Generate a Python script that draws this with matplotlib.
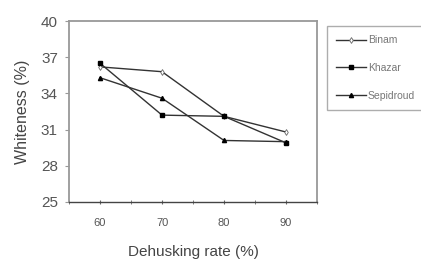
import matplotlib
matplotlib.use("Agg")
import matplotlib.pyplot as plt
from matplotlib.ticker import MultipleLocator

plt.rcParams['font.family'] = ['Liberation Sans', 'DejaVu Sans']

# data
rates = [60, 70, 80, 90]
binam = [36.2, 35.8, 32.1, 30.8]
khazar = [36.5, 32.2, 32.1, 29.9]
sepidroud = [35.3, 33.6, 30.1, 30.0]
yticks = [25, 28, 31, 34, 37, 40]

fig = plt.figure(figsize=(4.21, 2.63), dpi=100)
ax = fig.add_axes([0.164, 0.232, 0.589, 0.688])

line_col = '#333333'
ax.plot(rates, binam, color=line_col, lw=1.0, marker='d', ms=3,
        mfc='white', mec='#666666', mew=0.6, label='Binam')
ax.plot(rates, khazar, color=line_col, lw=1.0, marker='s', ms=3.5,
        mfc='black', mec='black', label='Khazar')
ax.plot(rates, sepidroud, color=line_col, lw=1.0, marker='^', ms=3,
        mfc='black', mec='black', label='Sepidroud')

ax.set_xlim(55, 95)
ax.set_ylim(25, 40)
ax.xaxis.set_major_locator(MultipleLocator(10))
ax.xaxis.set_minor_locator(MultipleLocator(5))
ax.set_yticks(yticks)

for s in ax.spines.values():
    s.set_color('#999999')
    s.set_linewidth(1.3)
ax.spines['bottom'].set_color('#444444')
ax.spines['bottom'].set_linewidth(1.0)

ax.tick_params(axis='y', direction='out', length=3, colors='#999999',
               labelcolor='#555555', labelsize=11, pad=5)
ax.tick_params(axis='x', which='both', direction='inout', length=3,
               colors='#666666', labelcolor='#555555', labelsize=8, pad=10)

ax.set_xlabel('Dehusking rate (%)', fontsize=11, color='#444444', labelpad=12)
ax.set_ylabel('Whiteness (%)', fontsize=11.5, color='#444444', labelpad=8)

leg = fig.legend(loc='upper left', bbox_to_anchor=(0.777, 0.901),
                 fontsize=7.5, frameon=True, fancybox=False,
                 handlelength=2.8, handletextpad=0.2, labelspacing=1.7,
                 borderpad=0.9, borderaxespad=0)
leg.get_frame().set_edgecolor('#999999')
leg.get_frame().set_linewidth(1.0)
for t in leg.get_texts():
    t.set_color('#777777')

fig.savefig('out.png', dpi=100)
